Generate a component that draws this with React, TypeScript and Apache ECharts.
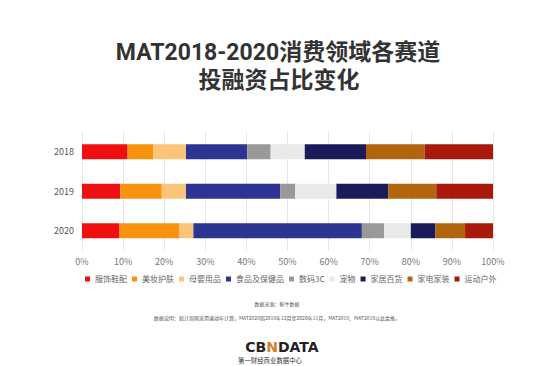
import React, { useEffect, useRef } from "react";
import * as echarts from "echarts";

const years = ["2018", "2019", "2020"];
const xTicks = [0, 10, 20, 30, 40, 50, 60, 70, 80, 90, 100];

const categories = ["服饰鞋配", "美妆护肤", "母婴用品", "食品及保健品", "数码3C", "宠物", "家居百货", "家电家装", "运动户外"];
const apparel = [11.1, 9.3, 9.0];
const beauty = [6.3, 10.1, 14.6];
const baby = [7.9, 5.9, 3.5];
const food = [14.9, 22.9, 41.0];
const digital = [5.7, 3.7, 5.4];
const pets = [8.3, 10.0, 6.5];
const household = [14.9, 12.6, 6.0];
const appliances = [14.3, 11.7, 7.2];
const sports = [16.6, 13.8, 6.8];
const seriesValues = [apparel, beauty, baby, food, digital, pets, household, appliances, sports];
const colors = ["#EE1010", "#F7930F", "#FAC578", "#2C3592", "#999999", "#E9E9E9", "#1B1B5C", "#B0650E", "#A8190C"];

const titleLines = ["MAT2018-2020消费领域各赛道", "投融资占比变化"];

export default function App() {
  const ref = useRef<HTMLDivElement>(null);
  useEffect(() => {
    if (!ref.current) return;
    const chart = echarts.init(ref.current, null, { renderer: "svg" });
    const font = "'Noto Sans CJK SC', 'Noto Sans', sans-serif";
    const titleFont = "Roboto, 'Noto Sans CJK SC', sans-serif";
    chart.setOption({
      animation: false,
      backgroundColor: "#ffffff",
      textStyle: { fontFamily: font },
      color: colors,
      grid: { left: 82, right: 61, top: 132, height: 118.5 },
      xAxis: {
        type: "value",
        min: xTicks[0],
        max: xTicks[xTicks.length - 1],
        interval: 10,
        axisLabel: { formatter: "{value}%", fontSize: 9, color: "#777777", margin: 6 },
        axisLine: { show: false },
        axisTick: { show: false },
        splitLine: { lineStyle: { color: "#E6E6E6", width: 1 } },
      },
      yAxis: {
        type: "category",
        data: years,
        inverse: true,
        axisLine: { show: false },
        axisTick: { show: false },
        axisLabel: { fontSize: 9, color: "#555555", margin: 8 },
      },
      legend: {
        data: categories,
        left: 80,
        top: 270,
        itemWidth: 5,
        itemHeight: 5,
        itemGap: 5,
        icon: "rect",
        textStyle: { fontSize: 8, color: "#666666", fontFamily: font },
      },
      series: categories.map((name, i) => ({
        name,
        type: "bar",
        stack: "total",
        barWidth: 15,
        data: seriesValues[i],
        itemStyle: { color: colors[i] },
      })),
      graphic: [
        {
          type: "text",
          x: 278,
          y: 52.5,
          style: {
            text: titleLines[0],
            fontSize: 23,
            fontWeight: "bold",
            fill: "#333333",
            align: "center",
            verticalAlign: "middle",
            fontFamily: titleFont,
          },
        },
        {
          type: "text",
          x: 279,
          y: 80.5,
          style: {
            text: titleLines[1],
            fontSize: 23,
            fontWeight: "bold",
            fill: "#333333",
            align: "center",
            verticalAlign: "middle",
            fontFamily: titleFont,
          },
        },
        {
          type: "text",
          left: "center",
          top: 301,
          style: { text: "数据来源：鲸牛数据", fontSize: 5, fill: "#555555", fontFamily: font },
        },
        {
          type: "text",
          left: "center",
          top: 315,
          style: {
            text: "数据说明：统计周期采用滚动年计算，MAT2020指2019年12月至2020年11月，MAT2019、MAT2018以此类推。",
            fontSize: 5,
            fill: "#555555",
            fontFamily: font,
          },
        },
        {
          type: "text",
          x: 282,
          y: 347,
          style: {
            text: "CB{n|N}DATA",
            fontSize: 14,
            fontWeight: "bold",
            fill: "#222222",
            align: "center",
            verticalAlign: "middle",
            fontFamily: "'DejaVu Sans', sans-serif",
            rich: { n: { fontSize: 14, fontWeight: "bold", fill: "#D0802E", fontFamily: "'DejaVu Sans', sans-serif" } },
          },
        },
        {
          type: "text",
          x: 270,
          y: 360,
          style: {
            text: "第一财经商业数据中心",
            fontSize: 6.4,
            fill: "#333333",
            align: "center",
            verticalAlign: "middle",
            fontFamily: font,
          },
        },
      ],
    });
    return () => chart.dispose();
  }, []);
  return <div ref={ref} style={{ position: "fixed", left: 0, top: 0, width: 554, height: 366 }} />;
}
